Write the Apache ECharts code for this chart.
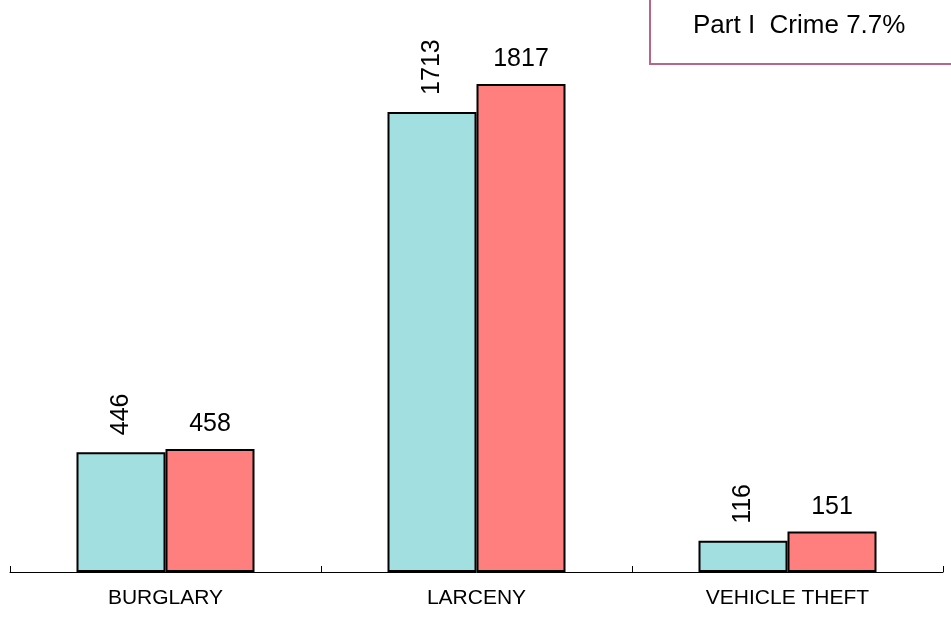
<!DOCTYPE html>
<html><head><meta charset="utf-8">
<script src="https://cdn.jsdelivr.net/npm/echarts@6/dist/echarts.min.js"></script>
<style>html,body{margin:0;padding:0;background:#fff}#c{width:951px;height:622px}</style>
</head><body><div id="c"></div>
<script>
const categories = ['BURGLARY', 'LARCENY', 'VEHICLE THEFT'];
const prevYear = [446, 1713, 116];
const currYear = [458, 1817, 151];
const boxText = 'Part I  Crime 7.7%';

const FONT = 'Arial, "Liberation Sans", sans-serif';
const chart = echarts.init(document.getElementById('c'), null, {renderer: 'canvas'});
chart.setOption({
  animation: false,
  backgroundColor: '#fff',
  grid: {left: 10, right: 8, top: 84, bottom: 50},
  xAxis: {
    type: 'category', data: categories,
    axisLine: {lineStyle: {color: '#000', width: 1}},
    axisTick: {show: true, inside: true, length: 6, lineStyle: {color: '#000'}},
    axisLabel: {color: '#000', fontFamily: FONT, fontSize: 21, margin: 16}
  },
  yAxis: {type: 'value', min: 0, max: 'dataMax', show: false, splitLine: {show: false}},
  series: [
    {
      type: 'bar', data: prevYear, barWidth: 89, barGap: '0%',
      itemStyle: {color: '#a2dfe0', borderColor: '#000', borderWidth: 2},
      label: {show: true, position: 'top', rotate: 90, align: 'left', verticalAlign: 'middle',
        distance: 17, color: '#000', fontFamily: FONT, fontSize: 25}
    },
    {
      type: 'bar', data: currYear, barWidth: 89, barGap: '0%',
      itemStyle: {color: '#ff7f7f', borderColor: '#000', borderWidth: 2},
      label: {show: true, position: 'top', distance: 12, color: '#000', fontFamily: FONT, fontSize: 25}
    }
  ],
  graphic: [
    {type: 'rect', left: 649, top: -5, shape: {width: 320, height: 68},
     style: {fill: '#fff', stroke: '#b8648f', lineWidth: 2}, z: 10},
    {type: 'text', left: 693, top: 13, style: {text: boxText, fill: '#000', font: '26px ' + FONT}, z: 11}
  ]
});
</script></body></html>
